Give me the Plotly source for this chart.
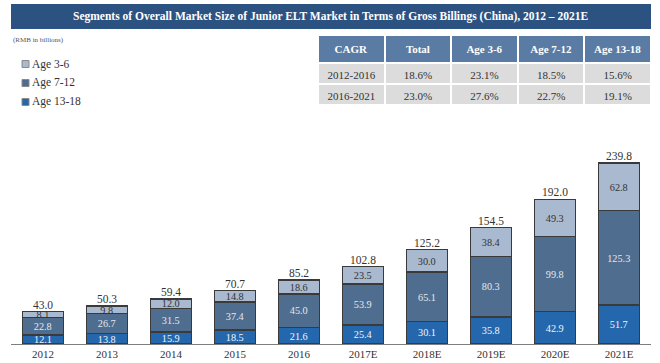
import plotly.graph_objects as go

W, H = 660, 363

years = ["2012", "2013", "2014", "2015", "2016", "2017E", "2018E", "2019E", "2020E", "2021E"]
age_13_18 = [12.1, 13.8, 15.9, 18.5, 21.6, 25.4, 30.1, 35.8, 42.9, 51.7]
age_7_12 = [22.8, 26.7, 31.5, 37.4, 45.0, 53.9, 65.1, 80.3, 99.8, 125.3]
age_3_6 = [8.1, 9.8, 12.0, 14.8, 18.6, 23.5, 30.0, 38.4, 49.3, 62.8]
totals = [43.0, 50.3, 59.4, 70.7, 85.2, 102.8, 125.2, 154.5, 192.0, 239.8]

table_header = ["CAGR", "Total", "Age 3-6", "Age 7-12", "Age 13-18"]
table_periods = ["2012-2016", "2016-2021"]
cagr_total = ["18.6%", "23.0%"]
cagr_3_6 = ["23.1%", "27.6%"]
cagr_7_12 = ["18.5%", "22.7%"]
cagr_13_18 = ["15.6%", "19.1%"]

legend_names = ["Age 3-6", "Age 7-12", "Age 13-18"]

SERIF = "Liberation Serif"
C_13 = "#2467ad"
C_7 = "#4f6d8f"
C_3 = "#a9b9d0"
EDGE = "#3a3a3a"
legend_colors = [C_3, C_7, C_13]


def px_x(p):
    return p / W


def px_y(p):
    return 1 - p / H


fig = go.Figure()

for name, vals, col, tcol in [
    ("Age 13-18", age_13_18, C_13, "#f2f5fa"),
    ("Age 7-12", age_7_12, C_7, "#e3e8ef"),
    ("Age 3-6", age_3_6, C_3, "#333333"),
]:
    fig.add_trace(go.Bar(
        x=years, y=vals, name=name,
        marker=dict(color=col, line=dict(color=EDGE, width=1.5)),
        text=[f"{v:.1f}" for v in vals],
        textposition="inside", insidetextanchor="middle", textangle=0,
        textfont=dict(family=SERIF, size=11, color=tcol),
        showlegend=False,
    ))

fig.add_trace(go.Scatter(
    x=years, y=totals, mode="text",
    text=[f"{v:.1f}" for v in totals], textposition="top center",
    textfont=dict(family=SERIF, size=11.5, color="#333333"),
    showlegend=False, hoverinfo="skip",
))

fig.add_trace(go.Table(
    domain=dict(x=[px_x(318), px_x(651)], y=[px_y(104), px_y(35)]),
    columnwidth=[1, 1, 1, 1, 1],
    header=dict(
        values=[f"<b>{h}</b>" for h in table_header],
        fill_color="#5a7ca4", line=dict(color="white", width=2),
        font=dict(family=SERIF, size=11, color="white"),
        align="center", height=21,
    ),
    cells=dict(
        values=[table_periods, cagr_total, cagr_3_6, cagr_7_12, cagr_13_18],
        fill_color="#dcdcdc", line=dict(color="white", width=2),
        font=dict(family=SERIF, size=11, color="#333333"),
        align="center", height=21,
    ),
))

shapes = [
    dict(type="rect", xref="paper", yref="paper",
         x0=px_x(11), x1=px_x(651), y0=px_y(29), y1=px_y(4),
         fillcolor="#2c5282", line=dict(width=0), layer="below"),
]
annotations = [
    dict(text="<b>Segments of Overall Market Size of Junior ELT Market in Terms of Gross Billings (China), 2012 \u2013 2021E</b>",
         xref="paper", yref="paper", x=px_x(331), y=px_y(16.5),
         xanchor="center", yanchor="middle", showarrow=False,
         font=dict(family=SERIF, size=11.5, color="white")),
    dict(text="(RMB in billions)", xref="paper", yref="paper",
         x=px_x(11), y=px_y(40), xanchor="left", yanchor="middle",
         showarrow=False, font=dict(family=SERIF, size=7, color="#555555")),
]
for i, (nm, col) in enumerate(zip(legend_names, legend_colors)):
    cy = 64 + i * 19
    shapes.append(dict(type="rect", xref="paper", yref="paper",
                       x0=px_x(22), x1=px_x(29), y0=px_y(cy + 3.5), y1=px_y(cy - 3.5),
                       fillcolor=col, line=dict(color="#8a8a8a", width=1)))
    annotations.append(dict(text=nm, xref="paper", yref="paper",
                            x=px_x(30), y=px_y(cy), xanchor="left", yanchor="middle",
                            showarrow=False,
                            font=dict(family=SERIF, size=11.5, color="#333333")))

fig.update_layout(
    width=W, height=H,
    margin=dict(l=0, r=0, t=0, b=0),
    paper_bgcolor="white", plot_bgcolor="white",
    barmode="stack", bargap=0.36,
    uniformtext=dict(minsize=10, mode="show"),
    xaxis=dict(
        domain=[px_x(11), px_x(651)], type="category",
        showgrid=False, showline=True, linecolor="#7f7f7f", linewidth=1,
        ticks="", tickfont=dict(family=SERIF, size=11, color="#333333"),
        automargin=False,
    ),
    yaxis=dict(
        domain=[px_y(344), px_y(148)], range=[0, 260],
        visible=False, showgrid=False, automargin=False,
    ),
    showlegend=False,
    shapes=shapes,
    annotations=annotations,
)

fig.write_html("out.html", config={"displayModeBar": False},
               post_script="document.body.style.margin='0';document.body.style.overflow='hidden';")
